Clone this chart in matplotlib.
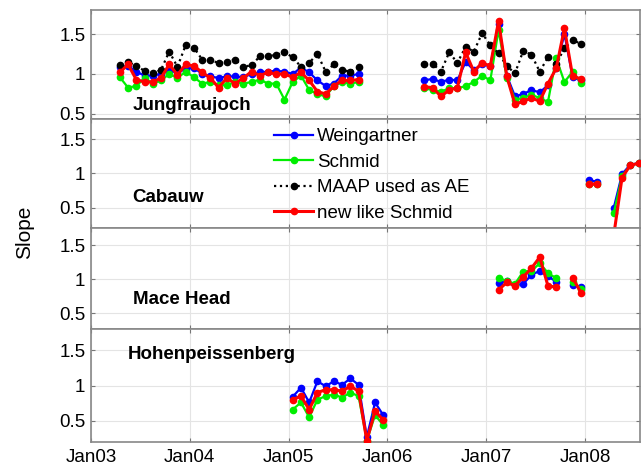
import numpy as np
import matplotlib
matplotlib.use("Agg")
import matplotlib.pyplot as plt

plt.rcParams['font.family'] = ['Liberation Sans', 'DejaVu Sans']

nan = np.nan

# ---------------------------------------------------------------------------
# data: monthly slopes (nan = no data)
# ---------------------------------------------------------------------------
# Jungfraujoch, Apr 2003 .. Dec 2007
jfj_start = (2003, 4)
jfj_weingartner = [1.09, 1.10, 1.03, 0.98, 0.98, 1.00, 1.04, 1.02, 1.06, 1.08,
                   1.00, 0.97, 0.95, 0.97, 0.97, 0.96, 1.00, 1.02, 1.03, 1.04,
                   1.03, 1.00, 1.08, 1.02, 0.92, 0.85, 0.88, 0.98, 0.98, 1.00,
                   nan, nan, nan, nan, nan, nan, nan,
                   0.92, 0.94, 0.90, 0.93, 0.92, 1.15, 1.05, 1.12, 1.10, 1.63,
                   0.98, 0.72, 0.75, 0.80, 0.77, 0.86, 1.08, 1.50, 0.96, 0.92]
jfj_schmid = [0.96, 0.83, 0.85, 0.95, 0.88, 0.92, 1.00, 0.95, 1.03, 0.96,
              0.88, 0.90, 0.86, 0.86, 0.90, 0.88, 0.90, 0.93, 0.88, 0.88,
              0.68, 0.90, 0.98, 0.80, 0.75, 0.72, 0.85, 0.90, 0.88, 0.90,
              nan, nan, nan, nan, nan, nan, nan,
              0.82, 0.80, 0.78, 0.82, 0.82, 0.85, 0.90, 0.98, 0.92, 1.55,
              0.95, 0.68, 0.70, 0.74, 0.70, 0.65, 1.20, 0.90, 1.03, 0.89]
jfj_maap = [1.11, 1.15, 1.10, 1.04, 1.01, 1.05, 1.28, 1.09, 1.36, 1.33,
            1.18, 1.17, 1.14, 1.15, 1.18, 1.09, 1.11, 1.22, 1.22, 1.24,
            1.27, 1.21, 1.09, 1.14, 1.25, 1.03, 1.12, 1.05, 1.03, 1.09,
            nan, nan, nan, nan, nan, nan, nan,
            1.12, 1.13, 1.03, 1.27, 1.14, 1.34, 1.28, 1.51, 1.36, 1.26,
            1.10, 1.01, 1.29, 1.24, 1.03, 1.21, 1.13, 1.32, 1.42, 1.38]
jfj_new = [1.02, 1.12, 0.93, 0.90, 0.90, 0.95, 1.12, 0.99, 1.12, 1.10,
           1.02, 0.95, 0.83, 0.95, 0.88, 0.95, 1.03, 0.98, 1.02, 1.00,
           1.00, 0.96, 1.02, 0.92, 0.78, 0.75, 0.85, 0.92, 0.92, 0.93,
           nan, nan, nan, nan, nan, nan, nan,
           0.84, 0.83, 0.72, 0.80, 0.83, 1.27, 1.03, 1.14, 1.10, 1.66,
           0.97, 0.62, 0.66, 0.70, 0.66, 0.88, 1.07, 1.57, 0.97, 0.94]

# Cabauw, Jan 2008 .. Jul 2008
cab_start = (2008, 1)
cab_weingartner = [0.90, 0.88, nan, 0.50, 0.99, 1.13, 1.15]
cab_schmid = [0.84, 0.84, nan, 0.42, 0.96, 1.12, 1.15]
cab_new = [0.84, 0.85, nan, 0.10, 0.94, 1.12, 1.15]

# Mace Head, Feb 2007 .. Dec 2007
mhd_start = (2007, 2)
mhd_weingartner = [0.94, 0.97, 0.91, 0.93, 1.06, 1.12, 1.04, 0.96, nan, 0.91, 0.88]
mhd_schmid = [1.02, 0.97, 0.93, 1.11, 1.12, 1.23, 1.09, 1.01, nan, 0.96, 0.86]
mhd_new = [0.84, 0.95, 0.90, 1.03, 1.16, 1.32, 0.90, 0.88, nan, 1.02, 0.80]

# Hohenpeissenberg, Jan 2005 .. Dec 2005
hpb_start = (2005, 1)
hpb_weingartner = [0.84, 0.97, 0.76, 1.06, 0.99, 1.06, 1.01, 1.10, 1.01, 0.27, 0.76, 0.58]
hpb_schmid = [0.66, 0.76, 0.55, 0.80, 0.85, 0.87, 0.83, 0.90, 0.85, 0.22, 0.58, 0.44]
hpb_new = [0.80, 0.85, 0.66, 0.90, 0.94, 0.94, 0.92, 0.99, 0.92, 0.22, 0.64, 0.51]

year_ticks = [2003, 2004, 2005, 2006, 2007, 2008]
year_labels = ['Jan03', 'Jan04', 'Jan05', 'Jan06', 'Jan07', 'Jan08']


def months(start, n):
    # mid-month positions in decimal years
    y, m = start
    idx = np.arange(n) + (m - 1)
    return y + (idx + 0.5) / 12.0


W, H = 641, 473
fig = plt.figure(figsize=(W / 100, H / 100), dpi=100)


def px_axes(top, bottom, left=91, right=640):
    return fig.add_axes([left / W, 1 - bottom / H, (right - left) / W, (bottom - top) / H])


styles = {
    'Weingartner': dict(color='#0000ff', lw=1.6, marker='o', ms=4.5, zorder=3),
    'Schmid': dict(color='#00ee00', lw=1.6, marker='o', ms=4.5, zorder=3),
    'MAAP used as AE': dict(color='black', lw=1.6, ls=':', marker='o', ms=4.5, zorder=4),
    'new like Schmid': dict(color='#ff0000', lw=2.2, marker='o', ms=4.5, zorder=5),
}

panels = [
    ('Jungfraujoch', 10, 119, (0.4375, 1.8), jfj_start,
     [('Weingartner', jfj_weingartner), ('Schmid', jfj_schmid),
      ('MAAP used as AE', jfj_maap), ('new like Schmid', jfj_new)], (133, 106)),
    ('Cabauw', 119, 228, (0.2, 1.8), cab_start,
     [('Weingartner', cab_weingartner), ('Schmid', cab_schmid),
      ('new like Schmid', cab_new)], (132, 197)),
    ('Mace Head', 228, 329, (0.265, 1.75), mhd_start,
     [('Weingartner', mhd_weingartner), ('Schmid', mhd_schmid),
      ('new like Schmid', mhd_new)], (133, 300)),
    ('Hohenpeissenberg', 329, 442, (0.2, 1.8), hpb_start,
     [('Weingartner', hpb_weingartner), ('Schmid', hpb_schmid),
      ('new like Schmid', hpb_new)], (128, 354)),
]

axes = []
for name, top, bottom, ylim, start, series, (tx, ty) in panels:
    ax = px_axes(top, bottom)
    for label, vals in series:
        t = months(start, len(vals))
        ax.plot(t, vals, label=label, **styles[label])
    ax.set_xlim(2003.0, 2003.0 + 549 / 98.8)
    ax.set_ylim(*ylim)
    ax.set_yticks([0.5, 1, 1.5])
    ax.set_yticklabels(['0.5', '1', '1.5'])
    ax.set_xticks(year_ticks)
    ax.set_xticklabels([])
    ax.grid(True, color='#e4e4e4', lw=0.8)
    ax.set_axisbelow(True)
    ax.tick_params(direction='in', length=3, top=True, right=True,
                   labelsize=13.5, color='#777777', pad=4)
    for sp in ax.spines.values():
        sp.set_color('#888888')
        sp.set_linewidth(1.2)
    fig.text(tx / W, 1 - ty / H, name, fontsize=13.5, fontweight='bold',
             ha='left', va='center')
    axes.append(ax)

axes[-1].set_xticklabels(year_labels)
axes[-1].tick_params(axis='x', pad=5)

# legend without frame, in the Cabauw panel
handles = [axes[0].lines[i] for i in range(4)]
axes[1].legend(handles, [h.get_label() for h in handles],
               loc='upper left', bbox_to_anchor=(274 / W, 1 - 128 / H),
               bbox_transform=fig.transFigure, frameon=False, fontsize=13.5,
               handlelength=2.1, handletextpad=0.2, labelspacing=0.45,
               borderpad=0, borderaxespad=0)

fig.text(25 / W, 1 - 232 / H, 'Slope', rotation=90, fontsize=15,
         ha='center', va='center')

fig.savefig('out.png', dpi=100)
